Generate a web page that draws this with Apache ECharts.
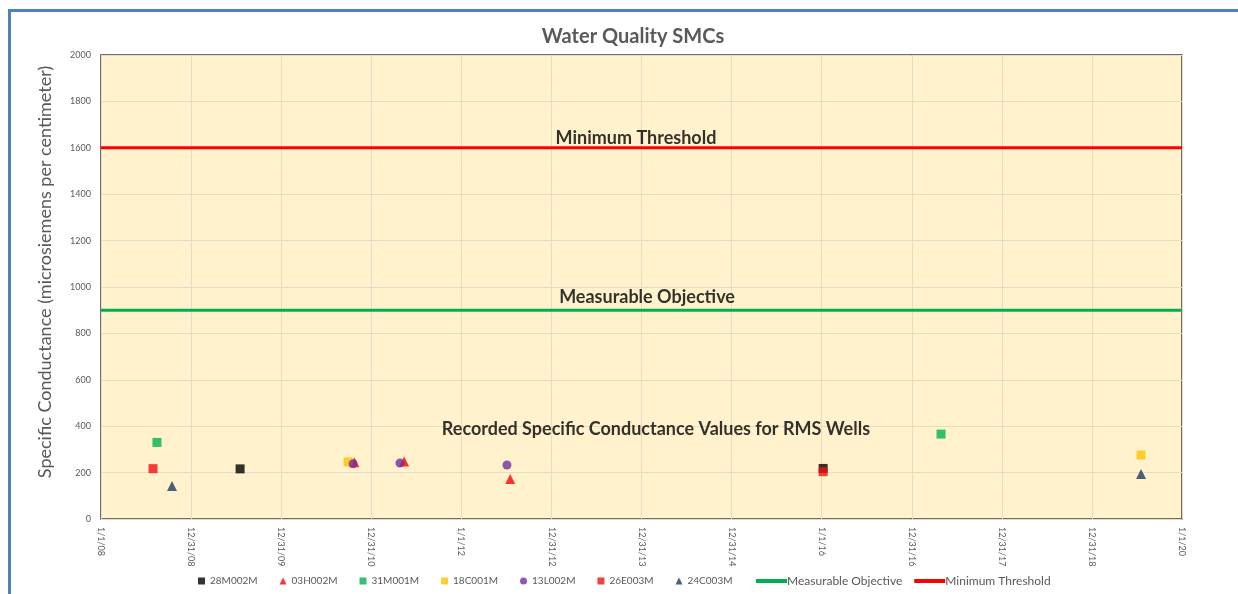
<!DOCTYPE html>
<html>
<head>
<meta charset="utf-8">
<script src="https://cdn.jsdelivr.net/npm/echarts@6/dist/echarts.min.js"></script>
<style>html,body{margin:0;padding:0;background:#fff;}#c{width:1238px;height:594px;}</style>
</head>
<body>
<div id="c"></div>
<script>
// ---- data ----
const wellNames = ['28M002M','03H002M','31M001M','18C001M','13L002M','26E003M','24C003M'];
const w28M002M = [['2009-07-18',216],['2016-01-07',218]];
const w03H002M = [['2010-10-24',245],['2011-05-14',248],['2012-07-17',172]];
const w31M001M = [['2008-08-15',330],['2017-04-29',366]];
const w18C001M = [['2010-09-29',246],['2019-07-19',276]];
const w13L002M = [['2010-10-19',238],['2011-04-27',241],['2012-07-04',233]];
const w26E003M = [['2008-07-30',217],['2016-01-07',204]];
const w24C003M = [['2008-10-15',142],['2019-07-19',194]];
const measurableObjective = 900;
const minimumThreshold = 1600;
const xStart = '2008-01-01';
const xEnd = '2020-01-01';
const yTicks = [0,200,400,600,800,1000,1200,1400,1600,1800,2000];
const annotations = [
  {text:'Minimum Threshold', date:'2013-12-09', value:1600},
  {text:'Measurable Objective', date:'2014-01-23', value:900},
  {text:'Recorded Specific Conductance Values for RMS Wells', date:'2014-02-28', value:388}
];

// ---- helpers ----
const DAY = 86400000;
function toDay(s){const p=s.split('-').map(Number);return (Date.UTC(p[0],p[1]-1,p[2])-Date.UTC(2008,0,1))/DAY;}
function fmtDay(v){const d=new Date(Date.UTC(2008,0,1)+Math.floor(v+1e-6)*DAY);return (d.getUTCMonth()+1)+'/'+d.getUTCDate()+'/'+String(d.getUTCFullYear()).slice(2);}
const xMin = toDay(xStart), xMax = toDay(xEnd);

const wells = [
  {name:'28M002M', data:w28M002M, symbol:'rect', size:9, color:'#000000'},
  {name:'03H002M', data:w03H002M, symbol:'triangle', size:10, color:'#ff0000'},
  {name:'31M001M', data:w31M001M, symbol:'rect', size:9, color:'#00b050'},
  {name:'18C001M', data:w18C001M, symbol:'rect', size:9, color:'#ffc000'},
  {name:'13L002M', data:w13L002M, symbol:'circle', size:9, color:'#7030a0'},
  {name:'26E003M', data:w26E003M, symbol:'rect', size:9, color:'#f01010'},
  {name:'24C003M', data:w24C003M, symbol:'triangle', size:10, color:'#1f3864'}
];

const txtStyle = {fontFamily:'Lato', fontWeight:'bold', fontSize:18, color:'#000'};

const series = wells.map(w => ({
  name:w.name, type:'scatter', symbol:w.symbol, symbolSize:w.size,
  itemStyle:{color:w.color},
  data:w.data.map(p=>[toDay(p[0]),p[1]]), z:3
}));
series.push({
  name:'Measurable Objective', type:'line', symbol:'none', color:'#00b050',
  lineStyle:{color:'#00b050', width:3}, z:2,
  data:[[xMin,measurableObjective],[xMax,measurableObjective]]
});
series.push({
  name:'Minimum Threshold', type:'line', symbol:'none', color:'#ff0000',
  lineStyle:{color:'#ff0000', width:3}, z:2,
  data:[[xMin,minimumThreshold],[xMax,minimumThreshold]]
});
// annotation labels via an invisible scatter
series.push({
  name:'notes', type:'scatter', symbolSize:0, silent:true, z:5,
  data:annotations.map((a,i)=>({value:[toDay(a.date),a.value],
    label:{show:true, formatter:a.text, position: i<2?'top':'inside', distance: i===0?1:4, ...txtStyle}}))
});

const chart = echarts.init(document.getElementById('c'), null, {renderer:'canvas'});
chart.setOption({
  animation:false,
  backgroundColor:'#ffffff',
  title:{text:'Water Quality SMCs', left:628, top:22, textAlign:'center',
    textStyle:{fontFamily:'Lato', fontWeight:'bold', fontSize:20, color:'#595959'}},
  graphic:[{type:'rect', shape:{x:9.5, y:10.5, width:1260, height:620},
    style:{fill:'none', stroke:'#4f81bd', lineWidth:3}, silent:true, z:-1}],
  grid:{left:101, right:56, top:55, bottom:75, show:true, backgroundColor:'#fff2cc',
    borderColor:'#404040', borderWidth:1.5},
  xAxis:{type:'value', min:xMin, max:xMax, interval:365.25,
    axisLine:{show:false}, axisTick:{show:false},
    splitLine:{show:true, lineStyle:{color:'#e4dcc6', width:1}},
    axisLabel:{rotate:-90, margin:8, fontFamily:'Lato', fontSize:9, color:'#595959',
      formatter:v=>fmtDay(v), showMinLabel:true, showMaxLabel:true}},
  yAxis:{type:'value', min:yTicks[0], max:yTicks[yTicks.length-1], interval:yTicks[1]-yTicks[0],
    name:'Specific Conductance (microsiemens per centimeter)', nameLocation:'middle', nameGap:47,
    nameTextStyle:{fontFamily:'Lato', fontSize:18, color:'#595959', padding:[0,0,0,30]},
    axisLine:{show:false}, axisTick:{show:false},
    splitLine:{show:true, lineStyle:{color:'#e4dcc6', width:1}},
    axisLabel:{margin:10, fontFamily:'Lato', fontSize:9, color:'#595959', formatter:v=>String(v)}},
  legend:[
    {data:wellNames, left:193, top:571, itemWidth:7, itemHeight:7, itemGap:22,
      textStyle:{fontFamily:'Lato', fontSize:10, color:'#595959'}},
    {data:['Measurable Objective','Minimum Threshold'], left:751, top:570, itemWidth:31, itemHeight:4,
      icon:'rect', itemGap:12, textStyle:{fontFamily:'Lato', fontSize:12, color:'#595959', padding:[0,0,0,-5]}}
  ],
  series:series
});
</script>
</body>
</html>
